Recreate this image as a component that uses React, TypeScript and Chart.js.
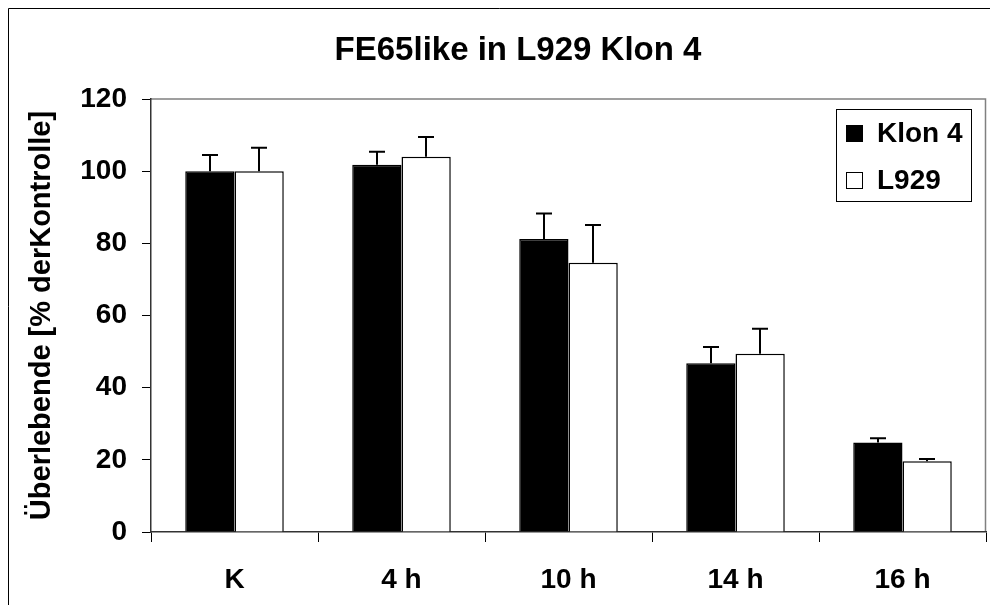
import React, { useEffect, useRef } from "react";
import { Chart, registerables } from "chart.js";

Chart.register(...registerables);

const categories = ["K", "4 h", "10 h", "14 h", "16 h"];
const seriesNames = ["Klon 4", "L929"];
const klon4Values = [100, 101.8, 81.2, 46.8, 24.8];
const klon4Errors = [4.5, 3.6, 7.1, 4.5, 1.2];
const l929Values = [100, 104, 74.6, 49.4, 19.6];
const l929Errors = [6.5, 5.5, 10.5, 6.9, 0.6];
const yMin = 0;
const yMax = 120;
const yStep = 20;
const titleText = "FE65like in L929 Klon 4";
const yAxisTitle = "Überlebende [% derKontrolle]";

const FONT = '"Liberation Sans", Arial, Helvetica, sans-serif';
const errorSets = [klon4Errors, l929Errors];
const fills = ["#000000", "#ffffff"];

const decorPlugin = {
  id: "decor",
  beforeDraw(chart: any) {
    const ctx = chart.ctx;
    const a = chart.chartArea;
    ctx.save();
    ctx.fillStyle = "#ffffff";
    ctx.fillRect(0, 0, chart.width, chart.height);
    // outer chart frame
    ctx.strokeStyle = "#000000";
    ctx.lineWidth = 1;
    ctx.beginPath();
    ctx.moveTo(8.5, chart.height);
    ctx.lineTo(8.5, 8.5);
    ctx.lineTo(chart.width, 8.5);
    ctx.stroke();
    // plot area frame (top/right)
    ctx.strokeStyle = "#808080";
    ctx.lineWidth = 1.5;
    ctx.beginPath();
    ctx.moveTo(a.left, a.top);
    ctx.lineTo(a.right - 0.5, a.top);
    ctx.lineTo(a.right - 0.5, a.bottom);
    ctx.stroke();
    ctx.restore();
  },
  afterDatasetsDraw(chart: any) {
    const ctx = chart.ctx;
    const yScale = chart.scales.y;
    ctx.save();
    ctx.strokeStyle = "#000000";
    ctx.lineWidth = 2;
    chart.data.datasets.forEach((ds: any, di: number) => {
      const meta = chart.getDatasetMeta(di);
      meta.data.forEach((el: any, i: number) => {
        const v = ds.data[i];
        const e = errorSets[di][i];
        const yTop = yScale.getPixelForValue(v + e);
        const x = Math.round(el.x);
        ctx.beginPath();
        ctx.moveTo(x, el.y);
        ctx.lineTo(x, yTop);
        ctx.moveTo(x - 8, yTop);
        ctx.lineTo(x + 8, yTop);
        ctx.stroke();
      });
    });
    ctx.restore();
  },
  afterDraw(chart: any) {
    const ctx = chart.ctx;
    ctx.save();
    // title
    ctx.fillStyle = "#000000";
    ctx.font = `bold 33px ${FONT}`;
    ctx.textAlign = "center";
    ctx.textBaseline = "middle";
    ctx.fillText(titleText, 518, 51);
    // legend
    const lx = 836, ly = 109, lw = 135, lh = 92;
    ctx.fillStyle = "#ffffff";
    ctx.fillRect(lx, ly, lw, lh);
    ctx.strokeStyle = "#000000";
    ctx.lineWidth = 1;
    ctx.strokeRect(lx + 0.5, ly + 0.5, lw, lh);
    ctx.font = `bold 28px ${FONT}`;
    ctx.textAlign = "left";
    ctx.textBaseline = "middle";
    chart.data.datasets.forEach((ds: any, i: number) => {
      const cy = ly + 24 + i * 47;
      ctx.fillStyle = fills[i];
      ctx.fillRect(lx + 10, cy - 8, 17, 17);
      ctx.strokeStyle = "#000000";
      ctx.lineWidth = 1;
      ctx.strokeRect(lx + 10.5, cy - 7.5, 16, 16);
      ctx.fillStyle = "#000000";
      ctx.fillText(ds.label, lx + 41, cy + 1);
    });
    ctx.restore();
  },
};

export default function App() {
  const ref = useRef<HTMLCanvasElement | null>(null);
  useEffect(() => {
    if (!ref.current) return;
    const chart = new Chart(ref.current, {
      type: "bar",
      data: {
        labels: categories,
        datasets: [
          {
            label: seriesNames[0],
            data: klon4Values,
            backgroundColor: fills[0],
            borderColor: "#000000",
            borderWidth: 1.5,
            borderSkipped: "start",
            categoryPercentage: 0.59,
            barPercentage: 1.0,
          },
          {
            label: seriesNames[1],
            data: l929Values,
            backgroundColor: fills[1],
            borderColor: "#000000",
            borderWidth: 1.5,
            borderSkipped: "start",
            categoryPercentage: 0.59,
            barPercentage: 1.0,
          },
        ],
      },
      options: {
        animation: false,
        responsive: false,
        devicePixelRatio: 1,
        layout: { padding: { top: 99, right: 4, left: 0, bottom: 0 } },
        plugins: {
          legend: { display: false },
          title: { display: false },
          tooltip: { enabled: false },
        },
        scales: {
          x: {
            afterFit: (s: any) => {
              s.height = 73;
            },
            grid: {
              display: true,
              drawOnChartArea: false,
              offset: true,
              tickLength: 10,
              color: "#000000",
              lineWidth: 1,
            },
            border: { display: true, color: "#333333", width: 1.5 },
            ticks: {
              color: "#000000",
              font: { family: FONT, size: 28, weight: "bold" },
              padding: 21,
              maxRotation: 0,
            },
          },
          y: {
            min: yMin,
            max: yMax,
            afterFit: (s: any) => {
              s.width = 151;
            },
            grid: {
              display: true,
              drawOnChartArea: false,
              tickLength: 9,
              color: "#000000",
              lineWidth: 1,
            },
            border: { display: true, color: "#333333", width: 1.5 },
            ticks: {
              stepSize: yStep,
              color: "#000000",
              font: { family: FONT, size: 28, weight: "bold" },
              padding: 15,
            },
            title: {
              display: true,
              text: yAxisTitle,
              color: "#000000",
              font: { family: FONT, size: 29, weight: "bold" },
              padding: { top: 25, bottom: 0 },
            },
          },
        },
      },
      plugins: [decorPlugin],
    });
    return () => chart.destroy();
  }, []);
  return (
    <div
      style={{
        position: "fixed",
        left: 0,
        top: 0,
        width: 990,
        height: 605,
        overflow: "hidden",
        background: "#fff",
      }}
    >
      <canvas
        ref={ref}
        width={990}
        height={605}
        style={{ display: "block", width: 990, height: 605 }}
      />
    </div>
  );
}
